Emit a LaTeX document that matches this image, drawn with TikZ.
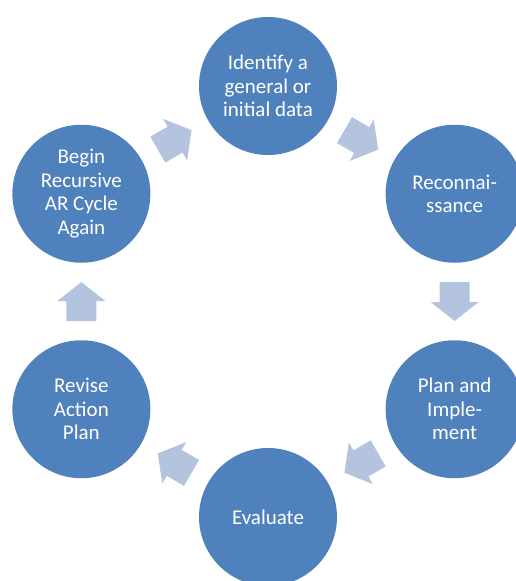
\documentclass[tikz,border=0pt]{standalone}
\usepackage{fontspec}
\setmainfont{Carlito}
\usetikzlibrary{calc}
\definecolor{stageblue}{RGB}{79,129,189}
\definecolor{arrowblue}{RGB}{180,195,222}

\begin{document}
\begin{tikzpicture}[x=1pt,y=1pt,
        stage/.style={circle,fill=stageblue,minimum size=138pt,inner sep=0pt,
            text=white,align=center,font=\fontsize{21}{23.5}\selectfont},
        cyclearrow/.pic={\fill[arrowblue] (-19.5,-15) -- (0.5,-15) -- (0.5,-24) -- (19.5,0)
            -- (0.5,24) -- (0.5,15) -- (-19.5,15) -- cycle;}]
    \useasboundingbox (-268,-279.5) rectangle (248,301.5);
    \clip (-268,-279.5) rectangle (248,301.5);
    % the six stages of the cycle
    \node[stage] (ident) at (90:215.5) {Identify a\\general or\\initial data};
    \node[stage] (recon) at (30:215.5) {Reconnai-\\ssance};
    \node[stage] (plan) at (-30:215.5) {Plan and\\Imple-\\ment};
    \node[stage] (eval) at (-90:215.5) {Evaluate};
    \node[stage] (revise) at (-150:215.5) {Revise\\Action\\Plan};
    \node[stage] (again) at (150:215.5) {Begin\\Recursive\\AR Cycle\\Again};
    % block arrows between neighbours
    \foreach \a/\b/\r in {ident/recon/-30,recon/plan/-90,plan/eval/-150,
            eval/revise/150,revise/again/90,again/ident/30}
        \pic[rotate=\r] at ($(\a)!0.5!(\b)$) {cyclearrow};
\end{tikzpicture}
\end{document}
